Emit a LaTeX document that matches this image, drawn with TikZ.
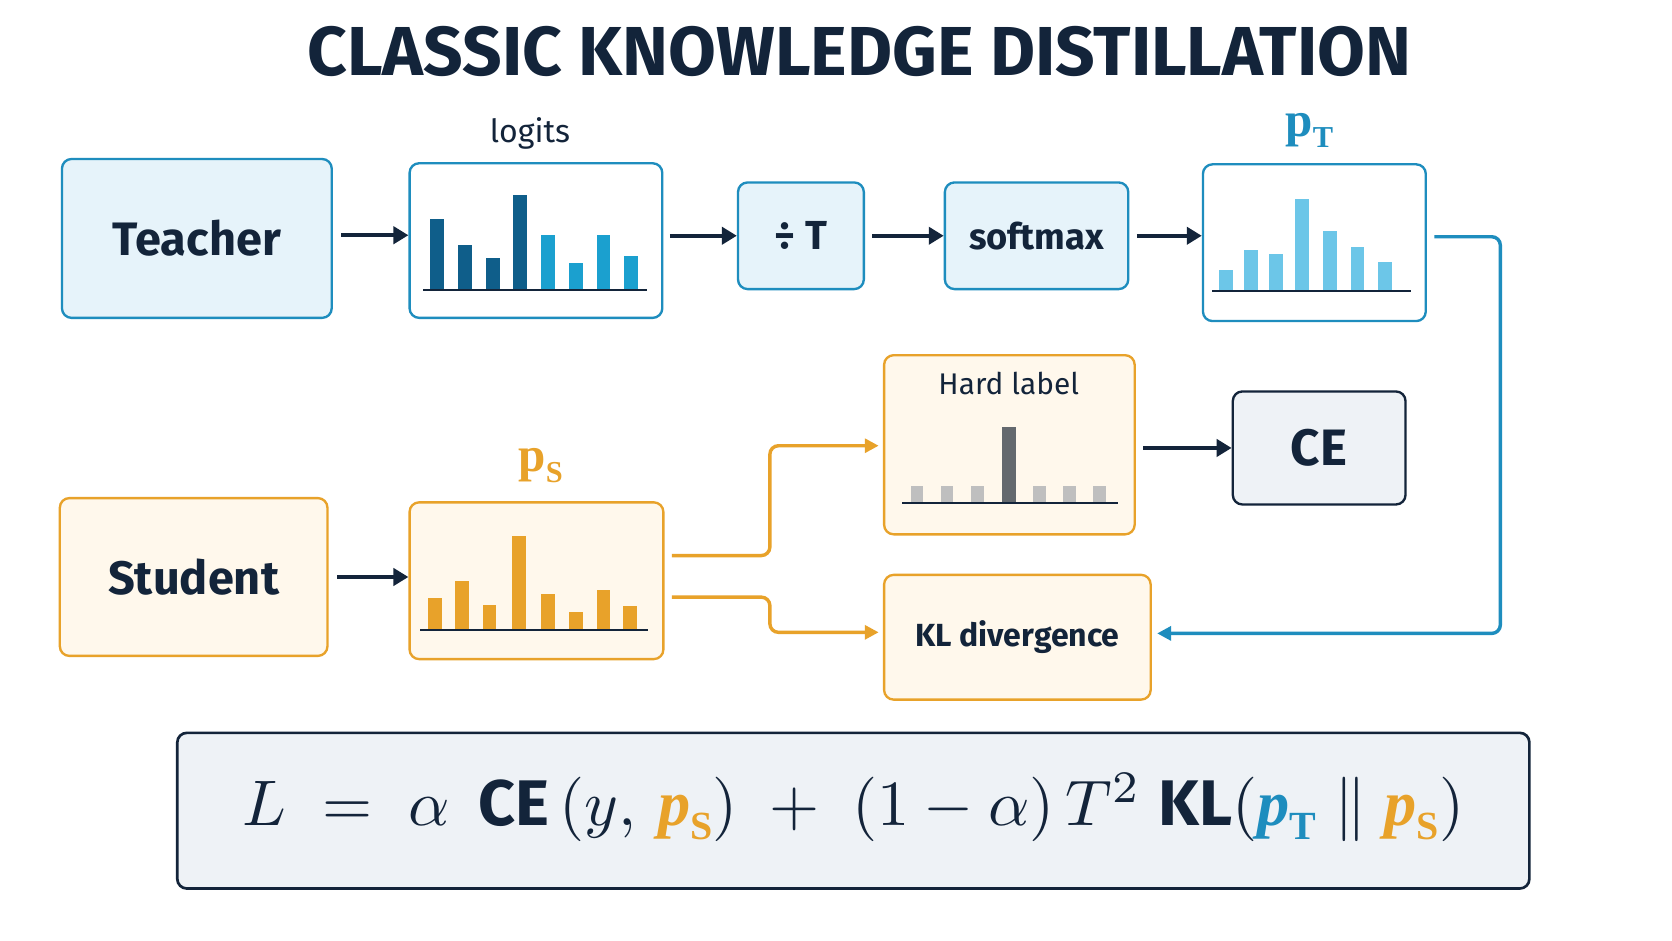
\documentclass[tikz,border=0pt]{standalone}
\usepackage{graphicx}
\usepackage{fontspec}
\setmainfont{Fira Sans}
\newfontfamily\serifb{Liberation Serif}
\usetikzlibrary{arrows.meta}
\definecolor{navy}{HTML}{13243A}
\definecolor{tblue}{HTML}{1E8DBE}
\definecolor{tfill}{HTML}{E6F3FA}
\definecolor{sor}{HTML}{E8A22A}
\definecolor{sfill}{HTML}{FFF8EC}
\definecolor{gfill}{HTML}{EEF2F6}
\definecolor{pbar}{HTML}{6CC6E8}
\definecolor{lbar1}{HTML}{0F5E8A}
\definecolor{lbar2}{HTML}{1BA0CF}
\tikzset{
  box/.style={draw, line width=2.2pt, rounded corners=9pt, anchor=north west, inner sep=0pt},
  tb/.style={box, draw=tblue, fill=tfill},
  tw/.style={box, draw=tblue, fill=white},
  sb/.style={box, draw=sor, fill=sfill},
  arr/.style={-{Triangle[length=14pt,width=16pt]}, line width=3.5pt, draw=navy},
  conn/.style={-{Triangle[length=13pt,width=13pt]}, line width=3.2pt, rounded corners=8pt},
}
\newcommand{\bx}[5]{\node[#1, minimum width=#4pt, minimum height=#5pt] (#2) at (#3) {};}
\newcommand{\pvar}[1]{\mbox{\serifb\bfseries p\raisebox{-0.22em}{\fontsize{0.62em}{0.62em}\selectfont #1}}}
\newcommand{\pvari}[1]{\mbox{\serifb\bfseries\itshape p\raisebox{-0.22em}{\upshape\fontsize{0.62em}{0.62em}\selectfont #1}}}
\begin{document}
\begin{tikzpicture}[x=1pt,y=-1pt]
\useasboundingbox (0,0) rectangle (1568,882);
\fill[white] (0,0) rectangle (1568,882);
\node[text=navy, font=\fontsize{65}{66}\selectfont\bfseries] (title) at (806,48) {CLASSIC KNOWLEDGE DISTILLATION};
% teacher row
\bx{tb}{teacher}{57,148}{253}{149}
\node[font=\fontsize{44}{44}\selectfont\bfseries, text=navy] (tt) at (teacher.center) {Teacher};
\bx{tw}{logits}{383,152}{237}{145}
\node[text=navy, font=\fontsize{30}{30}\selectfont] (logl) at (497,125) {logits};
\bx{tb}{divT}{691,170}{118}{100}
\node[font=\fontsize{38}{38}\selectfont\bfseries, text=navy] (dt) at (divT.center) {÷ T};
\bx{tb}{soft}{885,170}{172}{100}
\node[font=\fontsize{34}{34}\selectfont\bfseries, text=navy] (st) at (soft.center) {softmax};
\bx{tw}{pT}{1127,153}{209}{147}
\node[text=tblue, font=\fontsize{46}{46}\selectfont] (pTl) at (1228,122) {\pvar{T}};
% logits bars
\draw[navy, line width=2pt] (397,272) -- (607,272);
\foreach \x/\t/\c in {410/205/lbar1,436/230/lbar1,462/242/lbar1,488/183/lbar1,514/220/lbar2,540/247/lbar2,566/220/lbar2,592/240/lbar2}
  \fill[\c] (\x-6.5,\t) rectangle (\x+6.5,271);
\draw[navy, line width=2pt] (1137,273) -- (1323,273);
\foreach \x/\t in {1150/253,1173/234,1197/238,1221/187,1247/217,1273/232,1299/246}
  \fill[pbar] (\x-6.5,\t) rectangle (\x+6.5,272);
% student row
\bx{sb}{student}{55,466}{251}{148}
\node[font=\fontsize{44}{44}\selectfont\bfseries, text=navy] (stt) at (student.center) {Student};
\bx{sb}{pS}{383,470}{238}{147}
\node[text=sor, font=\fontsize{46}{46}\selectfont] (pSl) at (507,437) {\pvar{S}};
\draw[navy, line width=2pt] (394,591) -- (608,591);
\foreach \x/\t in {408/561,433/545,459/567,487/503,514/557,540/574,566/553,591/568}
  \fill[sor] (\x-6.5,\t) rectangle (\x+6.5,590);
\bx{sb}{hard}{828,332}{235}{168}
\node[text=navy, font=\fontsize{28}{28}\selectfont] (hl) at (946,360) {Hard label};
\draw[navy, line width=2pt] (846,472) -- (1048,472);
\foreach \x in {860,888,917,975,1003,1031}
  \fill[gray!50] (\x-6,456) rectangle (\x+6,471);
\fill[gray!75!navy] (946-6.5,400) rectangle (946+6.5,471);
\bx{box, draw=navy, fill=gfill}{ce}{1155,366}{162}{106}
\node[font=\fontsize{48}{48}\selectfont\bfseries, text=navy] (cet) at (ce.center) {CE};
\bx{sb}{kl}{828,538}{250}{117}
\node[font=\fontsize{30}{30}\selectfont\bfseries, text=navy] (klt) at (kl.center) {KL divergence};
% arrows
\draw[arr] (teacher.east) ++(8,-3) coordinate (a1) -- (logits.west |- a1);
\draw[arr] ([xshift=6pt]logits.east |- divT.west) -- (divT.west);
\draw[arr] ([xshift=7pt]divT.east) -- (soft.west);
\draw[arr] ([xshift=7pt]soft.east) -- (pT.west |- soft.east);
\draw[arr] ([xshift=8pt]student.east) -- (pS.west |- student.east);
\draw[arr] ([xshift=7pt]hard.east |- ce.west) -- (ce.west);
\coordinate (o1) at (630,521);
\coordinate (o2) at (630,560);
\draw[conn, draw=sor] (o1) -- (722,521) -- (722,418) -- ([xshift=-4pt]hard.west |- 0,418);
\draw[conn, draw=sor] (o2) -- (722,560) -- (722,593) -- ([xshift=-4pt]kl.west |- 0,593);
\draw[conn, draw=tblue] ([xshift=7pt]pT.east |- 0,222) -- (1407,222) -- (1407,594) -- ([xshift=5pt]kl.east |- 0,594);
% formula
\node[box, draw=navy, fill=gfill, minimum width=1268pt, minimum height=146pt, line width=2.5pt] (fb) at (165,686) {};
\node[text=navy] (ft) at ([yshift=3pt]fb.center)
 {\resizebox{1145pt}{!}{$L\;=\;\alpha\;\,\mbox{\bfseries CE}\,(y,\,{\color{sor}\pvari{S}})\;+\;(1-\alpha)\,T^{2}\;\mbox{\bfseries KL}({\color{tblue}\pvari{T}}\;\|\;{\color{sor}\pvari{S}})$}};
\end{tikzpicture}
\end{document}
